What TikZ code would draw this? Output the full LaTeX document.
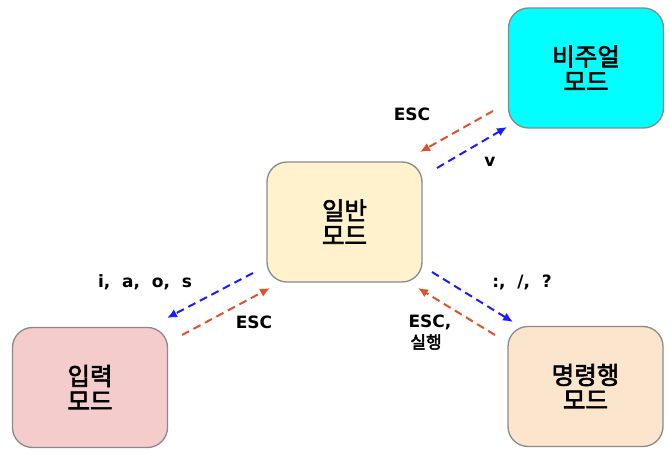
\documentclass[tikz,border=0pt]{standalone}
\usepackage{fontspec}
\setmainfont{DejaVu Sans}
\newfontfamily\kr[FakeBold=2.5]{Noto Sans CJK KR}
\usetikzlibrary{arrows.meta}
\definecolor{cyanbox}{HTML}{00FFFF}
\definecolor{pinkbox}{HTML}{F4CCCC}
\definecolor{yellowbox}{HTML}{FFF2CC}
\definecolor{orangebox}{HTML}{FCE5CD}
\definecolor{redarrow}{HTML}{E0522C}
\definecolor{bluearrow}{HTML}{1C1CFF}
\definecolor{boxline}{HTML}{8A8A8A}
\tikzset{
  modebox/.style={draw=boxline, line width=1.3pt, rounded corners=20pt,
    minimum width=155pt, minimum height=120pt, align=center,
    font=\kr\fontsize{24.5}{25}\selectfont, inner sep=0pt},
  redarr/.style={draw=redarrow, line width=2pt, dash pattern=on 8pt off 5pt,
    -{Latex[length=10pt,width=9pt]}},
  bluearr/.style={draw=bluearrow, line width=2pt, dash pattern=on 8pt off 5pt,
    -{Latex[length=10pt,width=9pt]}},
  lbl/.style={font=\bfseries\fontsize{17}{19}\selectfont, inner sep=0pt}
}
\begin{document}
\begin{tikzpicture}[x=1pt,y=-1pt]
\useasboundingbox (0,0) rectangle (670,462);
\node[modebox, fill=cyanbox] (visual) at (586,68) {비주얼\\모드};
\node[modebox, fill=yellowbox] (general) at (344.5,222) {일반\\모드};
\node[modebox, fill=pinkbox] (input) at (90,387.5) {입력\\모드};
\node[modebox, fill=orangebox] (command) at (585.5,386.5) {명령행\\모드};
% visual <-> general
\coordinate (vr1) at (493,111);
\coordinate (vr2) at (420,152);
\coordinate (vb1) at (437,168);
\coordinate (vb2) at (507,127);
\draw[redarr] (vr1) -- (vr2);
\draw[bluearr] (vb1) -- (vb2);
\node[lbl] (escv) at (412,114) {ESC};
\node[lbl] (vlab) at (490,162) {v};
% general <-> input
\coordinate (ib1) at (253,273);
\coordinate (ib2) at (167,318);
\coordinate (ir1) at (182,335);
\coordinate (ir2) at (270,288);
\draw[bluearr] (ib1) -- (ib2);
\draw[redarr] (ir1) -- (ir2);
\node[lbl] (ilab) at (145,282) {i,\ \ a,\ \ o,\ \ s};
\node[lbl] (esci) at (254,322) {ESC};
% general <-> command
\coordinate (cb1) at (432,272);
\coordinate (cb2) at (513,322);
\coordinate (cr1) at (495,335);
\coordinate (cr2) at (418,288);
\draw[bluearr] (cb1) -- (cb2);
\draw[redarr] (cr1) -- (cr2);
\node[lbl] (clab) at (522,282) {:,\ \ /,\ \ ?};
\node[lbl] (escc) at (430,322) {ESC,};
\node[font=\kr\fontsize{17}{19}\selectfont, inner sep=0pt] (exec) at (426,342) {실행};
\end{tikzpicture}
\end{document}
